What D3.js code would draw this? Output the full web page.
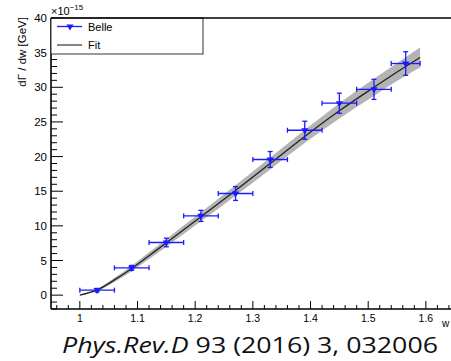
<!DOCTYPE html>
<html><head><meta charset="utf-8">
<script src="https://cdn.jsdelivr.net/npm/d3@7"></script>
<style>body{margin:0;background:#fff;overflow:hidden}svg{display:block}</style>
</head><body>
<svg id="c" width="451" height="361"></svg>
<script>
// Data (units of 1e-15 GeV)
const binCenter = [1.03, 1.09, 1.15, 1.21, 1.27, 1.33, 1.39, 1.45, 1.51, 1.565];
const binLow    = [1.00, 1.06, 1.12, 1.18, 1.24, 1.30, 1.36, 1.42, 1.48, 1.54];
const binHigh   = [1.06, 1.12, 1.18, 1.24, 1.30, 1.36, 1.42, 1.48, 1.54, 1.59];
const belleRate = [0.72, 3.94, 7.6, 11.44, 14.67, 19.58, 23.8, 27.7, 29.7, 33.43];
const belleErr  = [0.25, 0.35, 0.62, 0.8, 1.0, 1.15, 1.3, 1.45, 1.45, 1.7];
const fitW   = [1.00, 1.03, 1.06, 1.09, 1.12, 1.15, 1.21, 1.27, 1.33, 1.39, 1.45, 1.51, 1.565, 1.59];
const fitVal = [0.0, 0.75, 2.2, 3.85, 5.7, 7.55, 11.3, 15.1, 19.0, 22.9, 26.6, 30.0, 33.0, 34.3];
const fitErr = [0.0, 0.15, 0.3, 0.4, 0.48, 0.55, 0.65, 0.75, 0.85, 0.95, 1.1, 1.25, 1.35, 1.45];
const yMajor = [0, 5, 10, 15, 20, 25, 30, 35, 40];
const xMajor = [1.0, 1.1, 1.2, 1.3, 1.4, 1.5, 1.6];
const xMajorLabels = ["1", "1.1", "1.2", "1.3", "1.4", "1.5", "1.6"];
const legendLabels = ["Belle", "Fit"];

const svg = d3.select("#c");
const x = d3.scaleLinear().domain([0.95, 1.65]).range([51, 454.7]);
const y = d3.scaleLinear().domain([-2, 40]).range([309, 18]);
const font = "'Liberation Sans', Arial, sans-serif";

// Fit band
const fitData = fitW.map((w, i) => ({w, v: fitVal[i], e: fitErr[i]}));
svg.append("path").datum(fitData)
  .attr("d", d3.area().x(d => x(d.w)).y0(d => y(d.v - d.e)).y1(d => y(d.v + d.e)).curve(d3.curveMonotoneX))
  .attr("fill", "#b4b4b4").attr("stroke", "none");
svg.append("path").datum(fitData)
  .attr("d", d3.line().x(d => x(d.w)).y(d => y(d.v)).curve(d3.curveMonotoneX))
  .attr("fill", "none").attr("stroke", "#222").attr("stroke-width", 1.3);

// Data points
const blue = "#1a1aff";
const pts = binCenter.map((c, i) => ({c, lo: binLow[i], hi: binHigh[i], v: belleRate[i], e: belleErr[i]}));
const g = svg.append("g").attr("stroke", blue).attr("stroke-width", 1.3);
pts.forEach(p => {
  g.append("line").attr("x1", x(p.lo)).attr("x2", x(p.hi)).attr("y1", y(p.v)).attr("y2", y(p.v));
  g.append("line").attr("x1", x(p.lo)).attr("x2", x(p.lo)).attr("y1", y(p.v) - 2.5).attr("y2", y(p.v) + 2.5);
  g.append("line").attr("x1", x(p.hi)).attr("x2", x(p.hi)).attr("y1", y(p.v) - 2.5).attr("y2", y(p.v) + 2.5);
  g.append("line").attr("x1", x(p.c)).attr("x2", x(p.c)).attr("y1", y(p.v + p.e)).attr("y2", y(p.v - p.e));
  g.append("line").attr("x1", x(p.c) - 2.5).attr("x2", x(p.c) + 2.5).attr("y1", y(p.v + p.e)).attr("y2", y(p.v + p.e));
  g.append("line").attr("x1", x(p.c) - 2.5).attr("x2", x(p.c) + 2.5).attr("y1", y(p.v - p.e)).attr("y2", y(p.v - p.e));
});
const tri = d3.symbol().type(d3.symbolTriangle).size(22);
svg.append("g").selectAll("path").data(pts).join("path")
  .attr("d", tri).attr("transform", d => `translate(${x(d.c)},${y(d.v)}) rotate(180)`)
  .attr("fill", blue);

// Axes
const ax = svg.append("g").attr("stroke", "#000");
ax.append("line").attr("x1", 51).attr("x2", 451).attr("y1", y(-2)).attr("y2", y(-2)).attr("stroke-width", 1.6);
ax.append("line").attr("x1", 51).attr("x2", 51).attr("y1", y(-2)).attr("y2", y(40)).attr("stroke-width", 1.6);

const yMinor = d3.range(-2, 41, 1).filter(v => v % 5 !== 0);
ax.selectAll(".ymaj").data(yMajor).join("line").attr("class", "ymaj").attr("x1", 51).attr("x2", 63)
  .attr("y1", d => y(d)).attr("y2", d => y(d)).attr("stroke-width", 1);
ax.selectAll(".ymin").data(yMinor).join("line").attr("class", "ymin").attr("x1", 51).attr("x2", 57)
  .attr("y1", d => y(d)).attr("y2", d => y(d)).attr("stroke-width", 1);
const xMinor = d3.range(0, 35).map(i => 0.96 + i * 0.02).filter(v => Math.abs(Math.round(v * 10) - v * 10) > 0.05);
ax.selectAll(".xmaj").data(xMajor).join("line").attr("class", "xmaj").attr("x1", d => x(d)).attr("x2", d => x(d))
  .attr("y1", y(-2)).attr("y2", y(-2) - 8).attr("stroke-width", 1);
ax.selectAll(".xmin").data(xMinor).join("line").attr("class", "xmin").attr("x1", d => x(d)).attr("x2", d => x(d))
  .attr("y1", y(-2)).attr("y2", y(-2) - 4).attr("stroke-width", 1);

svg.append("g").selectAll("text").data(yMajor).join("text")
  .attr("x", 47).attr("y", d => y(d) + 4).attr("text-anchor", "end")
  .attr("font-family", font).attr("font-size", 11.5).text(d => d);
svg.append("g").selectAll("text").data(xMajor).join("text")
  .attr("x", d => x(d)).attr("y", 322).attr("text-anchor", "middle")
  .attr("font-family", font).attr("font-size", 10.5).text((d, i) => xMajorLabels[i]);

// exponent
const ex = svg.append("text").attr("x", 51).attr("y", 15).attr("font-family", font).attr("font-size", 11);
ex.append("tspan").text("\u00d710");
ex.append("tspan").attr("dy", -5).attr("font-size", 8).text("\u221215");

// y title
svg.append("text").attr("transform", "translate(26,17) rotate(-90)").attr("text-anchor", "end")
  .attr("font-family", font).attr("font-size", 11.5).text("d\u0393 / dw [GeV]");
// x title
svg.append("text").attr("x", 442).attr("y", 327).attr("font-family", font).attr("font-size", 10).text("w");

// Legend
svg.append("rect").attr("x", 51).attr("y", 18).attr("width", 152).attr("height", 36)
  .attr("fill", "#fff").attr("stroke", "#333").attr("stroke-width", 1);
svg.append("line").attr("x1", 51).attr("x2", 451).attr("y1", 18).attr("y2", 18).attr("stroke", "#000").attr("stroke-width", 1.6);
svg.append("line").attr("x1", 57).attr("x2", 82).attr("y1", 26.5).attr("y2", 26.5).attr("stroke", blue).attr("stroke-width", 1.3);
svg.append("path").attr("d", tri).attr("transform", "translate(70,26.5) rotate(180)").attr("fill", blue);
svg.append("line").attr("x1", 57).attr("x2", 82).attr("y1", 45).attr("y2", 45).attr("stroke", "#333").attr("stroke-width", 1.2);
svg.append("g").selectAll("text").data(legendLabels).join("text")
  .attr("x", 88).attr("y", (d, i) => 30.5 + i * 18.5).attr("font-family", font).attr("font-size", 11).text(d => d);

// Reference text
const t = svg.append("text").attr("x", 62).attr("y", 353).attr("font-family", "'Open Sans', sans-serif")
  .attr("font-size", 22.5).attr("fill", "#111").attr("textLength", 376).attr("lengthAdjust", "spacingAndGlyphs");
t.append("tspan").attr("font-style", "italic").text("Phys.Rev.D");
t.append("tspan").text(" 93 (2016) 3, 032006");
</script>
</body></html>
